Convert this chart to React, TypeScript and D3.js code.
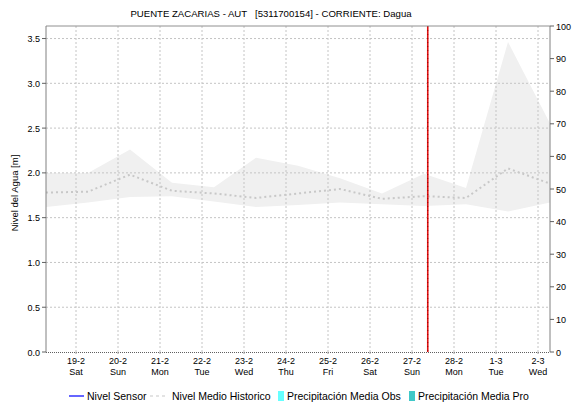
import React from "react";
import * as d3 from "d3";

const title = "PUENTE ZACARIAS - AUT   [5311700154] - CORRIENTE: Dagua";
const yLabel = "Nivel del Agua [m]";
const dayLabels = ["19-2", "20-2", "21-2", "22-2", "23-2", "24-2", "25-2", "26-2", "27-2", "28-2", "1-3", "2-3"];
const weekdayLabels = ["Sat", "Sun", "Mon", "Tue", "Wed", "Thu", "Fri", "Sat", "Sun", "Mon", "Tue", "Wed"];
const leftTicks = [0, 0.5, 1.0, 1.5, 2.0, 2.5, 3.0, 3.5];
const rightTicks = [0, 10, 20, 30, 40, 50, 60, 70, 80, 90, 100];

// daily historical stats (13 samples at window start time, one per day)
const histUpper = [2.0, 2.0, 2.26, 1.89, 1.84, 2.17, 2.08, 1.94, 1.77, 1.99, 1.83, 3.46, 2.55];
const histLower = [1.62, 1.67, 1.73, 1.74, 1.68, 1.62, 1.64, 1.67, 1.65, 1.63, 1.65, 1.57, 1.67];
const histMean = [1.78, 1.79, 1.98, 1.8, 1.77, 1.72, 1.77, 1.82, 1.71, 1.74, 1.72, 2.05, 1.88];

const DAY = 86400000;
const start = Date.UTC(2022, 1, 18, 6, 51);
const end = start + 12 * DAY;
const nowTime = Date.UTC(2022, 1, 27, 9, 0);
const dayDates = dayLabels.map((_, i) => Date.UTC(2022, 1, 19) + i * DAY);
const histDates = histMean.map((_, i) => start + i * DAY);

const legend = [
  { label: "Nivel Sensor", kind: "line", color: "#0000ff" },
  { label: "Nivel Medio Historico", kind: "dash", color: "#c8c8c8" },
  { label: "Precipitación Media Obs", kind: "box", color: "#66ffff" },
  { label: "Precipitación Media Pro", kind: "box", color: "#40c8c8" },
];

const FONT = "'Liberation Sans', Arial, sans-serif";

export default function App() {
  const W = 575, H = 406;
  const L = 46, R = 550, T = 26, B = 352;
  const x = d3.scaleUtc().domain([start, end]).range([L, R]);
  const y = d3.scaleLinear().domain([0, 3.64]).range([B, T]);
  const yr = d3.scaleLinear().domain([0, 100]).range([B, T]);

  const area = d3
    .area<number>()
    .x((i) => x(histDates[i]))
    .y0((i) => y(histLower[i]))
    .y1((i) => y(histUpper[i]));
  const meanLine = d3
    .line<number>()
    .x((i) => x(histDates[i]))
    .y((i) => y(histMean[i]));
  const idx = histMean.map((_, i) => i);

  const legendX = [69, 150, 278, 409];

  return (
    <svg width={W} height={H} style={{ position: "absolute", left: 0, top: 0, background: "#fff" }} fontFamily={FONT}>
      <rect x={0} y={0} width={W} height={H} fill="#fff" />
      <text x={271} y={17} fontSize={9.6} textAnchor="middle" fill="#000" style={{ whiteSpace: "pre" }} xmlSpace="preserve">{title}</text>

      <path d={area(idx) || ""} fill="#f0f0f0" />

      {/* grid */}
      {leftTicks.slice(1).map((t) => (
        <line key={"gy" + t} x1={L} x2={R} y1={y(t)} y2={y(t)} stroke="#c4c4c4" strokeDasharray="2,2" />
      ))}
      {dayDates.map((d, i) => (
        <line key={"gx" + i} x1={x(d)} x2={x(d)} y1={T} y2={B} stroke="#c4c4c4" strokeDasharray="2,2" />
      ))}

      <path d={meanLine(idx) || ""} fill="none" stroke="#c8c8c8" strokeWidth={2} strokeDasharray="2,3" />

      {/* now line */}
      <line x1={x(nowTime)} x2={x(nowTime)} y1={T} y2={B} stroke="#e01010" strokeWidth={1.6} />
      <line x1={x(nowTime)} x2={x(nowTime)} y1={T} y2={B} stroke="#800000" strokeWidth={0.8} strokeDasharray="1,3" />

      {/* frame */}
      <line x1={L} x2={R} y1={T} y2={T} stroke="#909090" />
      <line x1={L} x2={L} y1={T} y2={B} stroke="#808080" />
      <line x1={R} x2={R} y1={T} y2={B} stroke="#808080" />
      <line x1={L} x2={R} y1={B + 0.5} y2={B + 0.5} stroke="#606060" strokeDasharray="1,1" />

      {/* left axis */}
      {leftTicks.map((t) => (
        <g key={"lt" + t}>
          <line x1={L - 4} x2={L} y1={y(t)} y2={y(t)} stroke="#606060" />
          <text x={40} y={y(t) + 3.5} fontSize={9} textAnchor="end" fill="#000">{t.toFixed(1)}</text>
        </g>
      ))}
      <text transform={`translate(18,${(T + B) / 2 + 4}) rotate(-90)`} fontSize={9.5} textAnchor="middle" fill="#000">{yLabel}</text>

      {/* right axis */}
      {rightTicks.map((t) => (
        <g key={"rt" + t}>
          <line x1={R} x2={R + 4} y1={yr(t)} y2={yr(t)} stroke="#606060" />
          <text x={556} y={yr(t) + 3.5} fontSize={9} textAnchor="start" fill="#000">{t}</text>
        </g>
      ))}

      {/* x axis */}
      {dayDates.map((d, i) => (
        <g key={"xl" + i}>
          <line x1={x(d)} x2={x(d)} y1={B} y2={B + 2} stroke="#a0a0a0" />
          <text x={x(d)} y={364} fontSize={9} textAnchor="middle" fill="#000">{dayLabels[i]}</text>
          <text x={x(d)} y={375} fontSize={9} textAnchor="middle" fill="#000">{weekdayLabels[i]}</text>
        </g>
      ))}

      {/* legend */}
      {legend.map((it, i) => {
        const lx = legendX[i];
        const cy = 396;
        let sym = null;
        let tx = lx;
        if (it.kind === "line") {
          sym = <line x1={lx} x2={lx + 15} y1={cy} y2={cy} stroke={it.color} strokeWidth={1.2} />;
          tx = lx + 18;
        } else if (it.kind === "dash") {
          sym = <line x1={lx} x2={lx + 18} y1={cy} y2={cy} stroke={it.color} strokeWidth={1.2} strokeDasharray="3,3" />;
          tx = lx + 22;
        } else {
          sym = <rect x={lx} y={cy - 5} width={6} height={10} fill={it.color} />;
          tx = lx + 9;
        }
        return (
          <g key={"lg" + i}>
            {sym}
            <text x={tx} y={cy + 3.5} fontSize={10.5} fill="#000">{it.label}</text>
          </g>
        );
      })}
    </svg>
  );
}
